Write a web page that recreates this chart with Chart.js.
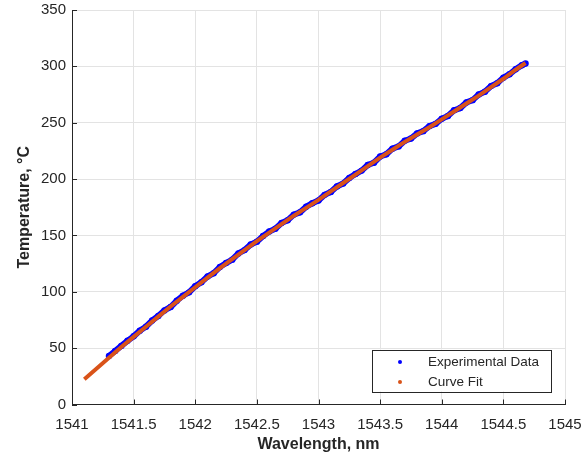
<!DOCTYPE html>
<html>
<head>
<meta charset="utf-8">
<title>Temperature vs Wavelength</title>
<script src="https://cdn.jsdelivr.net/npm/chart.js@4/dist/chart.umd.min.js"></script>
<style>
  html, body { margin: 0; padding: 0; background: #ffffff; }
  #wrap { width: 583px; height: 459px; position: relative; }
</style>
</head>
<body>
<div id="wrap"><canvas id="tempChart"></canvas></div>
<script>
// Mesures brutes (longueur d'onde en nm, température en °C)
const expWavelength = [
    1541.30, 1541.35, 1541.40, 1541.45, 1541.50, 1541.55, 1541.60, 1541.65, 1541.70, 1541.75,
    1541.80, 1541.85, 1541.90, 1541.95, 1542.00, 1542.05, 1542.10, 1542.15, 1542.20, 1542.25,
    1542.30, 1542.35, 1542.40, 1542.45, 1542.50, 1542.55, 1542.60, 1542.65, 1542.70, 1542.75,
    1542.80, 1542.85, 1542.90, 1542.95, 1543.00, 1543.05, 1543.10, 1543.15, 1543.20, 1543.25,
    1543.30, 1543.35, 1543.40, 1543.45, 1543.50, 1543.55, 1543.60, 1543.65, 1543.70, 1543.75,
    1543.80, 1543.85, 1543.90, 1543.95, 1544.00, 1544.05, 1544.10, 1544.15, 1544.20, 1544.25,
    1544.30, 1544.35, 1544.40, 1544.45, 1544.50, 1544.55, 1544.60, 1544.65, 1544.68
];
const expTemperature = [
    43, 47.5, 52, 56.5, 60.5, 65.5, 69, 74.5, 78.5, 83.5,
    86.5, 92, 96.5, 99.5, 105, 108.5, 113.5, 116.5, 122, 125.5,
    128.5, 134, 137, 142, 144.5, 149.5, 153.5, 156, 161, 163.5,
    168.5, 170.5, 175.5, 178.5, 181, 186, 188.5, 193.5, 196, 201,
    204.5, 207.5, 212.5, 214.5, 220, 222, 227, 229, 234, 236,
    240.5, 242.5, 247, 249, 253.5, 256, 261, 263, 268, 270,
    275, 277.5, 282.5, 285, 290, 293, 297.5, 301, 302.5
];

// Courbe d'ajustement
const fitWavelength = [
    1541.10, 1541.20, 1541.30, 1541.40, 1541.50, 1541.60, 1541.70, 1541.80, 1541.90, 1542.00,
    1542.10, 1542.20, 1542.30, 1542.40, 1542.50, 1542.60, 1542.70, 1542.80, 1542.90, 1543.00,
    1543.10, 1543.20, 1543.30, 1543.40, 1543.50, 1543.60, 1543.70, 1543.80, 1543.90, 1544.00,
    1544.10, 1544.20, 1544.30, 1544.40, 1544.50, 1544.60, 1544.68
];
const fitTemperature = [
    22.5, 32, 41.5, 51, 60, 69, 78, 87, 95.5, 104,
    112.5, 121, 129, 137, 145, 152.5, 160, 167.5, 174.5, 181.5,
    189, 196.5, 204, 211.5, 219, 226, 233, 239.5, 246, 253,
    260, 267, 274, 281.5, 289, 297, 303
];

// Axes
const xTicks = [1541, 1541.5, 1542, 1542.5, 1543, 1543.5, 1544, 1544.5, 1545];
const yTicks = [0, 50, 100, 150, 200, 250, 300, 350];

const axisColor = '#262626';
const gridColor = '#e3e3e3';
const fontFamily = '"Liberation Sans", Arial, Helvetica, sans-serif';

function toPoints(xs, ys) {
    return xs.map((x, i) => ({ x: x, y: ys[i] }));
}

// Petits traits de graduation tournés vers l'intérieur
const innerTicks = {
    id: 'innerTicks',
    afterDatasetsDraw(chart) {
        const ctx = chart.ctx;
        const area = chart.chartArea;
        const xs = chart.scales.x;
        const ys = chart.scales.y;
        ctx.save();
        ctx.strokeStyle = axisColor;
        ctx.lineWidth = 1;
        ctx.beginPath();
        xTicks.forEach(v => {
            const px = Math.round(xs.getPixelForValue(v)) + 0.5;
            ctx.moveTo(px, area.bottom);
            ctx.lineTo(px, area.bottom - 5);
        });
        yTicks.forEach(v => {
            const py = Math.round(ys.getPixelForValue(v)) + 0.5;
            ctx.moveTo(area.left, py);
            ctx.lineTo(area.left + 5, py);
        });
        ctx.stroke();
        ctx.restore();
    }
};

// Légende encadrée dans le coin inférieur droit
const boxLegend = {
    id: 'boxLegend',
    afterDraw(chart) {
        const ctx = chart.ctx;
        const area = chart.chartArea;
        const w = 179, h = 42;
        const left = area.right - 14 - w;
        const top = area.bottom - 13 - h;
        ctx.save();
        ctx.fillStyle = '#ffffff';
        ctx.fillRect(left, top, w, h);
        ctx.strokeStyle = axisColor;
        ctx.lineWidth = 1;
        ctx.strokeRect(Math.round(left) + 0.5, Math.round(top) + 0.5, w, h);
        ctx.font = '13.5px ' + fontFamily;
        ctx.textBaseline = 'middle';
        ctx.textAlign = 'left';
        const entries = [chart.data.datasets[1], chart.data.datasets[0]];
        entries.forEach((ds, i) => {
            const cy = top + 12.5 + i * 20;
            ctx.fillStyle = ds.pointBackgroundColor;
            ctx.beginPath();
            ctx.arc(left + 28, cy, 2, 0, Math.PI * 2);
            ctx.fill();
            ctx.fillStyle = axisColor;
            ctx.fillText(ds.label, left + 56, cy + 0.5);
        });
        ctx.restore();
    }
};

new Chart(document.getElementById('tempChart'), {
    type: 'scatter',
    data: {
        datasets: [{
            label: 'Curve Fit',
            data: toPoints(fitWavelength, fitTemperature),
            showLine: true,
            borderColor: '#d95319',
            borderWidth: 4,
            pointBackgroundColor: '#d95319',
            pointRadius: 0,
            tension: 0,
            order: 0
        }, {
            label: 'Experimental Data',
            data: toPoints(expWavelength, expTemperature),
            showLine: true,
            borderColor: '#0000ff',
            borderWidth: 6,
            pointBackgroundColor: '#0000ff',
            pointBorderWidth: 0,
            pointRadius: 3.2,
            tension: 0,
            order: 1
        }]
    },
    options: {
        responsive: true,
        maintainAspectRatio: false,
        animation: false,
        events: [],
        layout: {
            padding: { left: 0, right: 18, top: 10, bottom: 0 }
        },
        plugins: {
            legend: { display: false },
            tooltip: { enabled: false }
        },
        scales: {
            x: {
                type: 'linear',
                min: 1541,
                max: 1545,
                afterFit: (scale) => {
                    scale.height = 54.5;
                    scale.paddingLeft = 0;
                    scale.paddingRight = 0;
                },
                afterBuildTicks: (scale) => { scale.ticks = xTicks.map(v => ({ value: v })); },
                ticks: {
                    color: axisColor,
                    font: { family: fontFamily, size: 15 },
                    padding: 11,
                    maxRotation: 0,
                    autoSkip: false,
                    callback: (value) => String(value)
                },
                grid: { color: gridColor, lineWidth: 1, drawTicks: false },
                border: { display: true, color: axisColor, width: 1 },
                title: {
                    display: true,
                    text: 'Wavelength, nm',
                    color: axisColor,
                    font: { family: fontFamily, size: 16, weight: 'bold' },
                    padding: { top: 0, bottom: 5 }
                }
            },
            y: {
                type: 'linear',
                min: 0,
                max: 350,
                afterFit: (scale) => {
                    scale.width = 72;
                    scale.paddingTop = 0;
                    scale.paddingBottom = 0;
                },
                afterBuildTicks: (scale) => { scale.ticks = yTicks.map(v => ({ value: v })); },
                ticks: {
                    color: axisColor,
                    font: { family: fontFamily, size: 15 },
                    padding: 6,
                    autoSkip: false,
                    callback: (value) => String(value)
                },
                grid: { color: gridColor, lineWidth: 1, drawTicks: false },
                border: { display: true, color: axisColor, width: 1 },
                title: {
                    display: true,
                    text: 'Temperature, °C',
                    color: axisColor,
                    font: { family: fontFamily, size: 16, weight: 'bold' },
                    padding: { top: 15, bottom: 0 }
                }
            }
        }
    },
    plugins: [innerTicks, boxLegend]
});
</script>
</body>
</html>
